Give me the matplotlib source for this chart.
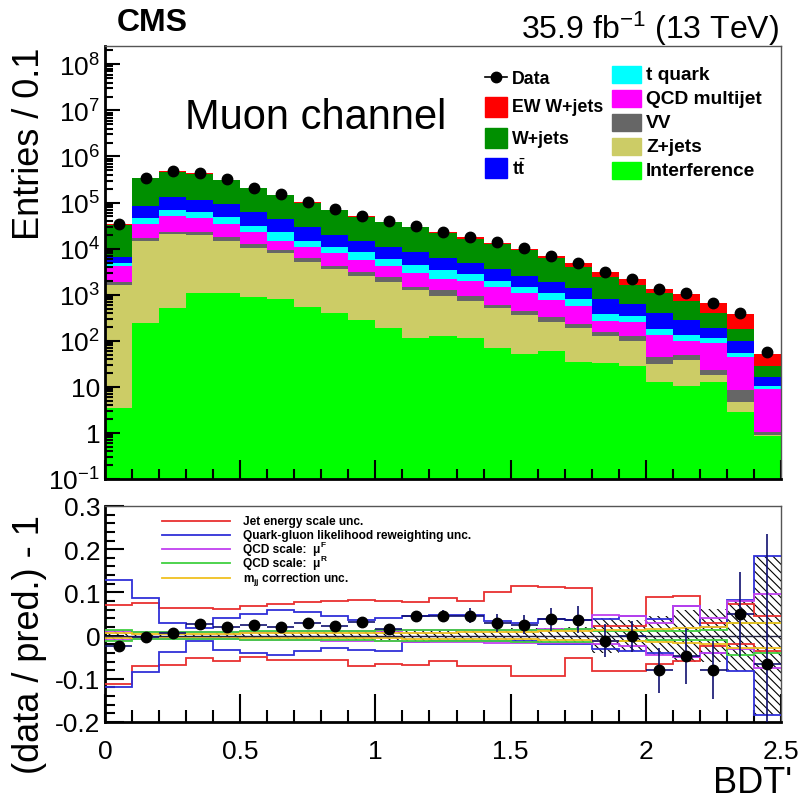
import numpy as np
import matplotlib
matplotlib.use('Agg')
import matplotlib.pyplot as plt
from matplotlib.patches import Rectangle
from matplotlib.lines import Line2D
from matplotlib.ticker import FixedLocator, MultipleLocator, NullFormatter

plt.rcParams['font.family'] = ['Liberation Sans', 'DejaVu Sans']
plt.rcParams['mathtext.fontset'] = 'custom'
plt.rcParams['mathtext.rm'] = 'Liberation Sans'
plt.rcParams['mathtext.it'] = 'Liberation Sans:italic'
plt.rcParams['mathtext.bf'] = 'Liberation Sans:bold'
plt.rcParams['axes.unicode_minus'] = False
plt.rcParams['hatch.linewidth'] = 0.8

# ---------------- data ----------------
bin_edges = np.round(np.arange(0, 2.51, 0.1), 2)
bin_centers = (bin_edges[:-1] + bin_edges[1:]) / 2

interference = [3.5, 240, 520, 1070, 1100, 890, 800, 540, 400, 280, 190, 115, 126, 115, 70, 51, 60, 35, 33, 28, 12.7, 10.4, 12.7, 2.9, 0.85]
zjets = [1600, 14200, 20500, 18400, 13400, 9400, 7200, 4460, 3200, 2220, 1710, 1135, 804, 605, 440, 304, 190, 151, 93, 70, 19.3, 27.6, 5.3, 1.8, 0.05]
vv = [300, 2200, 2000, 3500, 3500, 2300, 1300, 1200, 600, 600, 500, 250, 330, 210, 100, 85, 75, 44, 29, 28, 12, 11, 5, 3.8, 0.15]
qcd = [2300, 18400, 27000, 23000, 16000, 10400, 5700, 4500, 3800, 2500, 1800, 1400, 940, 1020, 890, 630, 435, 330, 115, 124, 88, 49, 66, 35.5, 7.95]
tquark = [600, 11000, 18000, 16000, 14000, 8000, 8000, 4300, 3000, 2700, 1700, 1500, 1200, 850, 500, 430, 310, 240, 110, 90, 48, 34, 26, 10, 1.5]
ttbar = [1700, 37000, 62000, 50000, 43000, 31000, 21000, 14000, 9000, 6700, 5100, 3900, 2800, 2000, 1700, 1100, 790, 580, 420, 280, 220, 148, 71, 44, 5.5]
wjets = [26500, 257000, 340000, 308000, 219000, 143000, 101000, 69000, 48000, 33000, 26000, 20700, 15300, 11700, 8800, 6700, 4540, 2520, 1600, 980, 670, 440, 214, 82, 12]
ewwjets = [500, 5000, 8000, 8000, 6000, 5000, 4000, 3000, 2000, 2000, 1500, 1000, 1100, 1000, 800, 600, 500, 900, 700, 600, 230, 330, 250, 200, 24]
data = [34000, 340000, 480000, 440000, 320000, 210000, 150000, 102000, 71000, 50000, 39000, 31000, 23000, 18000, 13800, 10200, 6900, 5000, 3100, 2200, 1300, 1070, 660, 400, 58]

ratio = [-0.024, -0.003, 0.006, 0.028, 0.021, 0.025, 0.021, 0.029, 0.023, 0.031, 0.016, 0.046, 0.046, 0.046, 0.029, 0.025, 0.038, 0.037, -0.012, -0.002, -0.080, -0.048, -0.079, 0.050, -0.065]
ratio_err = [0.012, 0.004, 0.003, 0.003, 0.004, 0.004, 0.005, 0.005, 0.006, 0.007, 0.008, 0.010, 0.013, 0.017, 0.020, 0.022, 0.027, 0.032, 0.038, 0.035, 0.052, 0.065, 0.067, 0.098, 0.300]

jes_up = [0.070, 0.075, 0.065, 0.064, 0.062, 0.068, 0.073, 0.077, 0.081, 0.082, 0.079, 0.078, 0.087, 0.079, 0.100, 0.114, 0.112, 0.111, 0.022, 0.022, 0.089, 0.091, 0.029, 0.072, 0.045]
jes_down = [-0.112, -0.071, -0.067, -0.052, -0.058, -0.050, -0.056, -0.056, -0.056, -0.071, -0.066, -0.067, -0.059, -0.071, -0.071, -0.094, -0.094, -0.052, -0.083, -0.083, -0.066, -0.058, -0.024, -0.020, -0.036]
qg_up = [0.128, 0.088, 0.029, 0.018, 0.040, 0.050, 0.060, 0.055, 0.045, 0.035, 0.040, 0.045, 0.047, 0.047, 0.033, 0.030, 0.039, 0.036, 0.039, 0.045, 0.039, 0.068, 0.021, 0.083, 0.184]
qg_down = [-0.120, -0.085, -0.039, -0.012, -0.033, -0.040, -0.044, -0.036, -0.029, -0.033, -0.035, -0.015, -0.013, -0.013, -0.013, -0.013, -0.020, -0.020, -0.030, -0.035, -0.040, -0.050, -0.040, -0.081, -0.184]
muf_up = [0.010, 0.008, 0.008, 0.008, 0.008, 0.009, 0.009, 0.010, 0.010, 0.011, 0.011, 0.012, 0.012, 0.013, 0.013, 0.014, 0.015, 0.016, 0.048, 0.045, 0.030, 0.068, 0.040, 0.080, 0.096]
muf_down = [-0.010, -0.008, -0.008, -0.008, -0.009, -0.010, -0.010, -0.011, -0.012, -0.013, -0.013, -0.014, -0.014, -0.015, -0.016, -0.016, -0.017, -0.018, -0.020, -0.025, -0.045, -0.050, -0.040, -0.030, -0.075]
mur_up = [0.012, 0.008, 0.008, 0.009, 0.009, 0.010, 0.010, 0.010, 0.011, 0.011, 0.012, 0.012, 0.012, 0.013, 0.013, 0.014, 0.014, 0.015, 0.010, 0.010, 0.010, 0.010, 0.012, 0.030, 0.030]
mur_down = [-0.012, -0.008, -0.008, -0.009, -0.009, -0.010, -0.010, -0.010, -0.011, -0.011, -0.012, -0.012, -0.012, -0.013, -0.013, -0.014, -0.014, -0.015, -0.012, -0.012, -0.010, -0.010, -0.010, -0.044, -0.040]
mjj_up = [0.005, 0.004, 0.004, 0.004, 0.004, 0.005, 0.005, 0.005, 0.006, 0.006, 0.006, 0.007, 0.007, 0.008, 0.008, 0.009, 0.010, 0.010, 0.012, 0.013, 0.015, 0.017, 0.020, 0.029, 0.029]
mjj_down = [-0.005, -0.004, -0.004, -0.004, -0.004, -0.005, -0.005, -0.005, -0.006, -0.006, -0.006, -0.007, -0.007, -0.008, -0.008, -0.009, -0.010, -0.010, -0.012, -0.013, -0.015, -0.017, -0.020, -0.029, -0.029]
mcstat = [0.012, 0.005, 0.004, 0.004, 0.005, 0.006, 0.007, 0.008, 0.009, 0.010, 0.011, 0.012, 0.013, 0.014, 0.015, 0.017, 0.018, 0.020, 0.040, 0.035, 0.045, 0.060, 0.062, 0.082, 0.184]

stack_names = ['Interference', 'Z+jets', 'VV', 'QCD multijet', 't quark', r'$\mathbf{t}\bar{\mathbf{t}}$', 'W+jets', 'EW W+jets']
stack_values = [interference, zjets, vv, qcd, tquark, ttbar, wjets, ewwjets]
stack_colors = ['#00ff00', '#cccc66', '#666666', '#ff00ff', '#00ffff', '#0000ff', '#008f00', '#ff0000']

W, H = 798, 804
fig = plt.figure(figsize=(W / 100, H / 100), dpi=100)

def fx(x):
    return x / W

def fy(y):
    return 1 - y / H

ax = fig.add_axes([fx(105), fy(480), fx(781) - fx(105), fy(47) - fy(480)])
axr = fig.add_axes([fx(105), fy(723), fx(781) - fx(105), fy(507) - fy(723)])

# ---------------- top stack ----------------
bottom = np.full(len(bin_centers), 1e-5)
for vals, col in zip(stack_values, stack_colors):
    top = bottom + np.array(vals, dtype=float)
    ax.stairs(top, bin_edges, baseline=bottom, fill=True, color=col, lw=0)
    bottom = top

ax.errorbar(bin_centers, data, yerr=np.sqrt(data), fmt='o', color='black',
            markersize=7.5, elinewidth=1, capsize=0, zorder=5)

ax.set_yscale('log')
ax.set_ylim(0.1, 2.5e8)
ax.set_xlim(0, 2.5)
ax.yaxis.set_major_locator(FixedLocator([10.0 ** k for k in range(-1, 9)]))
ylabels = [r'$10^{-1}$', '1', '10'] + [r'$10^{%d}$' % k for k in range(2, 9)]
ax.set_yticklabels(ylabels)
ax.yaxis.set_minor_locator(FixedLocator([m * 10.0 ** k for k in range(-1, 9) for m in range(2, 10)]))
ax.yaxis.set_minor_formatter(NullFormatter())
ax.xaxis.set_major_locator(MultipleLocator(0.5))
ax.xaxis.set_minor_locator(MultipleLocator(0.1))
ax.set_xticklabels([])
ax.tick_params(which='both', direction='in', top=False, right=False, width=1.5, labelsize=19)
ax.tick_params(which='major', length=11)
ax.tick_params(which='minor', length=6)
ax.tick_params(axis='x', which='major', length=14)
ax.tick_params(axis='x', which='minor', length=7)
fig.text(fx(30), fy(48), 'Entries / 0.1', fontsize=26, rotation=90, ha='center', va='top')

for sp in ['left', 'bottom']:
    ax.spines[sp].set_linewidth(2)
    axr.spines[sp].set_linewidth(2)
for sp in ['top', 'right']:
    ax.spines[sp].set_linewidth(1)
    ax.spines[sp].set_color('#555555')
    axr.spines[sp].set_linewidth(1)
    axr.spines[sp].set_color('#555555')

fig.text(fx(185), fy(118), 'Muon channel', fontsize=30, va='center')
fig.text(fx(117), fy(23), 'CMS', fontsize=23, fontweight='bold', va='center')
fig.text(fx(779), fy(29), r'35.9 fb$^{-1}$ (13 TeV)', fontsize=23, va='center', ha='right')

# top legend
fig.add_artist(Line2D([fx(485), fx(507)], [fy(78), fy(78)], color='black', lw=1.2, transform=fig.transFigure))
fig.add_artist(Line2D([fx(496)], [fy(78)], color='black', marker='o', markersize=7.5, transform=fig.transFigure))
fig.text(fx(512), fy(79), 'Data', fontsize=12.8, fontweight='bold', va='center')
col1 = [('EW W+jets', '#ff0000', 108), ('W+jets', '#008f00', 139), (r'$\mathbf{t}\bar{\mathbf{t}}$', '#0000ff', 169)]
for lab, col, yy in col1:
    fig.add_artist(Rectangle((fx(485), fy(yy + 10)), fx(507) - fx(485), fy(yy - 10) - fy(yy + 10),
                             color=col, transform=fig.transFigure))
    fig.text(fx(512), fy(yy), lab, fontsize=12.8, fontweight='bold', va='center')
col2 = [('t quark', '#00ffff', 75), ('QCD multijet', '#ff00ff', 99), ('VV', '#666666', 123),
        ('Z+jets', '#cccc66', 147), ('Interference', '#00ff00', 171)]
for lab, col, yy in col2:
    fig.add_artist(Rectangle((fx(612), fy(yy + 8.5)), fx(641) - fx(612), fy(yy - 8.5) - fy(yy + 8.5),
                             color=col, transform=fig.transFigure))
    fig.text(fx(646), fy(yy), lab, fontsize=13.8, fontweight='bold', va='center')

# ---------------- ratio ----------------
mc = np.array(mcstat)
axr.bar(bin_centers, 2 * mc, bottom=-mc, width=0.1, facecolor='none', edgecolor='black',
        hatch='\\\\\\\\', linewidth=0, zorder=2)

syst = [(jes_up, jes_down, '#e83030'), (qg_up, qg_down, '#3030d8'), (muf_up, muf_down, '#c040f0'),
        (mur_up, mur_down, '#40d040'), (mjj_up, mjj_down, '#f0c020')]
for up, dn, col in syst:
    axr.stairs(up, bin_edges, color=col, lw=1.3, baseline=None, zorder=3)
    axr.stairs(dn, bin_edges, color=col, lw=1.3, baseline=None, zorder=3)
axr.axhline(0, color='#202040', lw=1, zorder=3)

axr.errorbar(bin_centers, ratio, yerr=ratio_err, xerr=0.05, fmt='o', color='black', ecolor='#101070',
             markersize=7.5, elinewidth=1.2, capsize=0, zorder=5)

axr.set_xlim(0, 2.5)
axr.set_ylim(-0.2, 0.3)
axr.xaxis.set_major_locator(MultipleLocator(0.5))
axr.xaxis.set_minor_locator(MultipleLocator(0.1))
axr.yaxis.set_major_locator(MultipleLocator(0.1))
axr.yaxis.set_minor_locator(MultipleLocator(0.02))
axr.set_xticks([0, 0.5, 1, 1.5, 2, 2.5])
axr.set_xticklabels(['0', '0.5', '1', '1.5', '2', '2.5'])
axr.set_yticks([-0.2, -0.1, 0, 0.1, 0.2, 0.3])
axr.set_yticklabels(['-0.2', '-0.1', '0', '0.1', '0.2', '0.3'])
axr.tick_params(which='both', direction='in', top=False, right=False, width=1.5, labelsize=19)
axr.tick_params(axis='y', which='major', length=14)
axr.tick_params(axis='y', which='minor', length=7)
axr.tick_params(axis='x', which='major', length=20, pad=12)
axr.tick_params(axis='x', which='minor', length=9)
fig.text(fx(30), fy(645), '(data / pred.) - 1', fontsize=26, rotation=90, ha='center', va='center')
fig.text(fx(792), fy(784), "BDT'", fontsize=26, ha='right', va='center')

leg_items = [('Jet energy scale unc.', None, '#e83030', 522),
             ('Quark-gluon likelihood reweighting unc.', None, '#3030d8', 536),
             ('QCD scale:  \u03bc', 'F', '#c040f0', 550),
             ('QCD scale:  \u03bc', 'R', '#40d040', 564),
             (r'm$_{\mathbf{jj}}$ correction unc.', None, '#f0c020', 579)]
for lab, sub, col, yy in leg_items:
    fig.add_artist(Line2D([fx(162), fx(230)], [fy(yy), fy(yy)], color=col, lw=1.3, transform=fig.transFigure))
    t = fig.text(fx(243), fy(yy), lab, fontsize=8.6, fontweight='bold', va='center')
    if sub is not None:
        axr.annotate(sub, xy=(1.0, 0.55), xycoords=t, fontsize=6, fontweight='bold',
                     ha='left', va='bottom', annotation_clip=False)

fig.savefig('out.png', dpi=100)
